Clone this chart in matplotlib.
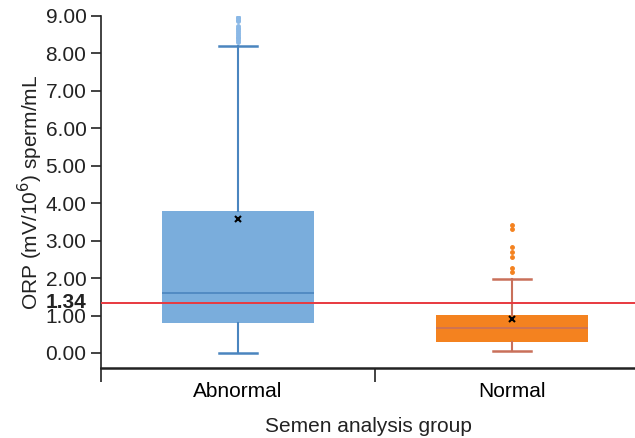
import matplotlib.pyplot as plt
from matplotlib.ticker import FixedLocator

plt.rcParams['font.family'] = ['Liberation Sans', 'DejaVu Sans']

# Box statistics
groups = ['Abnormal', 'Normal']
q1 = [0.80, 0.30]
median = [1.60, 0.67]
q3 = [3.78, 1.02]
whisker_low = [0.00, 0.05]
whisker_high = [8.20, 1.98]
means = [3.59, 0.91]
outliers_abnormal = [8.97, 8.94, 8.90, 8.86, 8.72, 8.68, 8.64, 8.60, 8.55,
                     8.50, 8.45, 8.40, 8.35, 8.30]
outliers_normal = [3.43, 3.30, 2.82, 2.69, 2.55, 2.28, 2.15]
cutoff = 1.34

box_colors = ['#7aaddc', '#f4821f']
line_colors = ['#4a85bf', '#c9705a']
flier_colors = ['#8ab8e6', '#f4821f']

fig = plt.figure(figsize=(6.35, 4.38), dpi=100)
ax = fig.add_axes([0.159, 0.160, 0.841, 0.8035])

fliers = [outliers_abnormal, outliers_normal]
positions = [0.5, 1.5]
for i in range(2):
    stats = [{
        'q1': q1[i], 'med': median[i], 'q3': q3[i],
        'whislo': whisker_low[i], 'whishi': whisker_high[i],
        'mean': means[i], 'fliers': fliers[i], 'label': groups[i],
    }]
    ax.bxp(stats, positions=[positions[i]], widths=0.555, capwidths=0.14,
           patch_artist=True, showmeans=True, manage_ticks=False,
           boxprops=dict(facecolor=box_colors[i], edgecolor=box_colors[i], linewidth=0),
           medianprops=dict(color=line_colors[i], linewidth=1.2),
           whiskerprops=dict(color=line_colors[i], linewidth=1.5),
           capprops=dict(color=line_colors[i], linewidth=1.8),
           meanprops=dict(marker='x', markeredgecolor='black', markersize=5,
                          markeredgewidth=1.5),
           flierprops=dict(marker='o', markerfacecolor=flier_colors[i],
                           markeredgecolor=flier_colors[i], markersize=2.5))

ax.axhline(cutoff, color='#e8393f', linewidth=1.4, zorder=5)
ax.text(-0.028, cutoff, '1.34', transform=ax.get_yaxis_transform(),
        ha='right', va='center', fontsize=15, fontweight='bold', color='#222222')

ax.set_yticks(range(10))
ax.set_yticklabels(['%.2f' % v for v in range(10)])
ax.set_xticks([0, 1])
ax.set_xticklabels([])
ax.xaxis.set_minor_locator(FixedLocator(positions))
ax.set_xticklabels(groups, minor=True)
ax.set_xlim(0, 1.949)
ax.set_ylim(-0.4, 9.0)
ax.tick_params(axis='x', which='minor', length=0, pad=10, labelsize=15)
ax.tick_params(axis='x', which='major', length=10, width=1.2, color='#222222')
ax.tick_params(axis='y', length=7, width=1.2, color='#222222', labelsize=15,
               labelcolor='#222222')

ax.spines['top'].set_visible(False)
ax.spines['right'].set_visible(False)
ax.spines['left'].set_linewidth(1.2)
ax.spines['bottom'].set_linewidth(1.8)
ax.spines['left'].set_color('#222222')
ax.spines['bottom'].set_color('#222222')

ax.set_ylabel('ORP (mV/10$^6$) sperm/mL', fontsize=15, color='#222222', labelpad=0)
ax.set_xlabel('Semen analysis group', fontsize=15, color='#222222', labelpad=12)

fig.savefig('out.png', dpi=100)
